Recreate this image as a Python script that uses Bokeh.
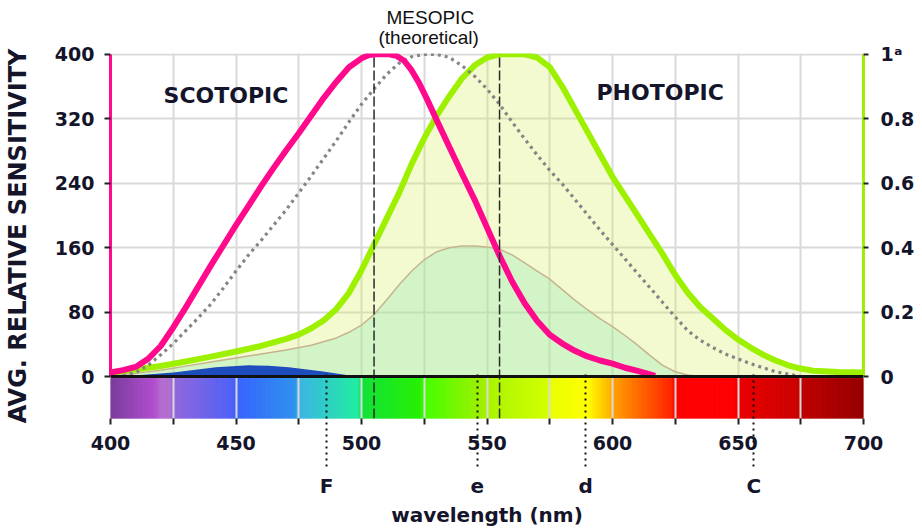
import numpy as np
from bokeh.plotting import figure
from bokeh.models import Range1d, LinearAxis, FixedTicker, Span, Label, Title
from bokeh.embed import file_html
from bokeh.resources import INLINE

# ---------------- data ----------------
scotopic_wl = [400, 405, 410, 415, 420, 425, 430, 435, 440, 445, 450, 455, 460, 465, 470, 475,
               480, 485, 490, 495, 500, 503, 506, 511, 514, 517, 520, 523, 526, 530, 535, 540,
               545, 550, 555, 560, 565, 570, 575, 580, 585, 590, 595, 600, 605, 610, 617]
scotopic_val = [5, 8, 12, 22, 38, 61, 86, 112, 138, 163, 188, 212, 236, 259, 281, 302,
                324, 346, 366, 384, 395, 399, 400, 400, 398, 392, 380, 364, 345, 318, 285, 252,
                220, 185, 150, 118, 91, 69, 52, 41, 32, 25, 20, 16, 11, 7, 1]

mesopic_wl = [405, 410, 415, 420, 425, 430, 435, 440, 445, 450, 455, 460, 465, 470, 475, 480,
              485, 490, 495, 500, 505, 510, 515, 520, 525, 530, 535, 540, 545, 550, 555, 560,
              565, 570, 575, 580, 585, 590, 595, 600, 605, 610, 615, 620, 625, 630, 635, 640,
              645, 650, 655, 660, 665, 670, 675]
mesopic_val = [1, 5, 14, 27, 41, 57, 73, 90, 110, 131, 151, 169, 188, 207, 228, 249,
               271, 293, 316, 338, 357, 375, 389, 397, 400, 400, 396, 386, 373, 357, 338, 316,
               295, 275, 256, 239, 220, 201, 182, 164, 146, 128, 110, 92, 74, 57, 45, 36,
               28, 22, 16, 11, 6, 3, 0]

photopic_wl = [400, 410, 420, 430, 440, 450, 460, 470, 475, 480, 485, 490, 495, 500, 505, 510,
               515, 520, 525, 530, 535, 540, 545, 550, 555, 560, 565, 570, 575, 580, 585, 590,
               595, 600, 605, 610, 615, 620, 625, 630, 635, 640, 645, 650, 655, 660, 665, 670,
               675, 680, 690, 700]
photopic_val = [0.013, 0.022, 0.033, 0.047, 0.062, 0.078, 0.095, 0.117, 0.13, 0.15, 0.175,
                0.21, 0.26, 0.33, 0.41, 0.49, 0.57, 0.66, 0.74, 0.81, 0.87, 0.925, 0.965, 0.99,
                1.0, 1.0, 1.0, 0.99, 0.96, 0.90, 0.83, 0.76, 0.69, 0.62, 0.56, 0.50, 0.44, 0.38,
                0.315, 0.26, 0.215, 0.18, 0.145, 0.115, 0.09, 0.068, 0.05, 0.035, 0.025, 0.018,
                0.014, 0.013]

inner_wl = [400, 410, 420, 430, 440, 450, 460, 470, 480, 490, 495, 500, 505, 510, 515, 520,
            525, 530, 535, 540, 545, 550, 555, 560, 565, 570, 575, 580, 585, 590, 595, 600,
            605, 610, 615, 620, 625, 630, 635]
inner_val = [2, 4, 8, 13, 18, 23, 28, 33, 39, 48, 55, 64, 77, 95, 114, 131,
             145, 155, 160, 162, 162, 161, 158, 151, 141, 131, 121, 108, 95, 83, 72, 62,
             51, 39, 26, 14, 6, 2, 0]

blue_wl = [403, 412, 425, 442, 455, 463, 471, 484, 492, 498]
blue_val = [0, 2, 5, 11.5, 14, 13.5, 11.5, 6.5, 3, 0]

peak_lines = [505, 555]
fraunhofer_wl = [486.1, 546.1, 589.3, 656.3]
fraunhofer_lbl = ["F", "e", "d", "C"]

x_major_ticks = [400, 450, 500, 550, 600, 650, 700]
x_minor_ticks = [425, 475, 525, 575, 625, 675]
left_ticks = [0, 80, 160, 240, 320, 400]
right_ticks = [0, 0.2, 0.4, 0.6, 0.8, 1.0]

spectrum_stops_wl = [400, 418, 420, 424, 425, 449, 450, 474, 475, 499, 500, 524, 525, 549,
                     550, 574, 575, 590, 599, 600, 624, 625, 649, 650, 674, 675, 700]
spectrum_stops_col = ["#7a3c9c", "#b24fd0", "#b46cd0", "#b070d0", "#9468dc", "#4e62f6",
                      "#3a62ff", "#2e92ee", "#3cb4e6", "#22eea0", "#12e23a", "#28f000",
                      "#44ff00", "#a2f000", "#a8f400", "#d2ff00", "#e8ff00", "#ffff00",
                      "#ffb800", "#ffa400", "#ff2200", "#ff0000", "#ff0000", "#ea0000",
                      "#cc0000", "#c00000", "#960000"]

# ---------------- styling ----------------
PINK = "#ff0a8c"
GREEN = "#9cf000"
TXT = "#14142a"
FONT = "DejaVu Sans"
LEFT_MAX = 400
Y_LO, Y_HI = -52, 401

p = figure(width=922, height=529, x_range=Range1d(400, 700), y_range=Range1d(Y_LO, Y_HI),
           output_backend="svg", toolbar_location=None, title=None,
           min_border_left=110, min_border_right=59, min_border_top=53, min_border_bottom=111)
p.extra_y_ranges = {"photopic": Range1d(Y_LO / LEFT_MAX, Y_HI / LEFT_MAX)}
p.outline_line_color = None

# spectrum strip under the zero line
def hex2rgb(h):
    return np.array([int(h[i:i + 2], 16) for i in (1, 3, 5)], dtype=float)

stops_rgb = np.array([hex2rgb(c) for c in spectrum_stops_col])
lefts = np.arange(400, 700, 1.0)
mids = lefts + 0.5
cols = []
for m in mids:
    r = np.interp(m, spectrum_stops_wl, stops_rgb[:, 0])
    g = np.interp(m, spectrum_stops_wl, stops_rgb[:, 1])
    b = np.interp(m, spectrum_stops_wl, stops_rgb[:, 2])
    cols.append("#%02x%02x%02x" % (int(r), int(g), int(b)))
spec = p.quad(left=lefts, right=lefts + 1, bottom=Y_LO, top=-2, fill_color=cols,
              line_color=cols, line_width=1)
spec.level = "image"

# grids
for g in (p.xgrid, p.ygrid):
    g.grid_line_color = "#d9d9d9"
    g.grid_line_width = 2
p.xgrid.minor_grid_line_color = "#d9d9d9"
p.xgrid.minor_grid_line_width = 2

# filled areas
p.varea(x=photopic_wl, y1=0, y2=photopic_val, y_range_name="photopic",
        fill_color="#d8f060", fill_alpha=0.3)
p.varea(x=inner_wl, y1=0, y2=inner_val, fill_color="#94e7b5", fill_alpha=0.35)
p.line(inner_wl, inner_val, line_color="#c5b58e", line_width=1.5)
p.varea(x=blue_wl, y1=0, y2=blue_val, fill_color="#1d4cbc")

# curves
p.line(photopic_wl, photopic_val, y_range_name="photopic", line_color=GREEN, line_width=6,
       line_join="round")
p.line(mesopic_wl, mesopic_val, line_color="#858585", line_width=3.2, line_dash="3 4")
p.line(scotopic_wl, scotopic_val, line_color=PINK, line_width=6, line_join="round")

# peak markers
p.segment(x0=peak_lines, y0=[Y_LO] * len(peak_lines), x1=peak_lines,
          y1=[LEFT_MAX] * len(peak_lines), line_color="#2a2a2a", line_width=1.5,
          line_dash="10 3")

p.add_layout(Span(location=0, dimension="width", line_color="#111111", line_width=3))

# left axis
ya = p.yaxis[0]
ya.ticker = FixedTicker(ticks=left_ticks)
ya.bounds = (0, LEFT_MAX)
ya.axis_line_color = PINK
ya.axis_line_width = 3
ya.major_tick_out = 6
ya.major_tick_in = 0
ya.major_tick_line_color = "#222222"
ya.major_tick_line_width = 2
ya.minor_tick_line_color = None
ya.major_label_text_font = FONT
ya.major_label_text_font_style = "bold"
ya.major_label_text_font_size = "19px"
ya.major_label_text_color = TXT
ya.major_label_standoff = 10
ya.axis_label = "AVG. RELATIVE SENSITIVITY"
ya.axis_label_text_font = FONT
ya.axis_label_text_font_style = "bold"
ya.axis_label_text_font_size = "24px"
ya.axis_label_text_color = TXT
ya.axis_label_standoff = 20

# right axis
ra = LinearAxis(y_range_name="photopic", ticker=FixedTicker(ticks=right_ticks),
                bounds=(0, 1), major_label_overrides={0: "0", 1: "1\u1d43"})
ra.axis_line_color = GREEN
ra.axis_line_width = 3
ra.major_tick_out = 5
ra.major_tick_in = 0
ra.major_tick_line_color = "#222222"
ra.major_tick_line_width = 2
ra.minor_tick_line_color = None
ra.major_label_text_font = FONT
ra.major_label_text_font_style = "bold"
ra.major_label_text_font_size = "19px"
ra.major_label_text_color = TXT
ra.major_label_standoff = 12
p.add_layout(ra, "right")

# bottom wavelength axis
xa = p.xaxis[0]
xa.ticker = FixedTicker(ticks=x_major_ticks, minor_ticks=x_minor_ticks)
xa.axis_line_color = None
for pre in ("major", "minor"):
    setattr(xa, pre + "_tick_out", 6)
    setattr(xa, pre + "_tick_in", 0)
    setattr(xa, pre + "_tick_line_color", "#222222")
    setattr(xa, pre + "_tick_line_width", 2)
xa.major_label_text_font = FONT
xa.major_label_text_font_style = "bold"
xa.major_label_text_font_size = "19px"
xa.major_label_text_color = TXT
xa.major_label_standoff = 11

# Fraunhofer lines axis
fa = LinearAxis(ticker=FixedTicker(ticks=fraunhofer_wl),
                major_label_overrides=dict(zip(fraunhofer_wl, fraunhofer_lbl)))
fa.axis_line_color = None
fa.major_tick_in = 78
fa.major_tick_out = 14
fa.major_tick_line_color = "#111111"
fa.major_tick_line_width = 2
fa.major_tick_line_dash = "2 4"
fa.minor_tick_line_color = None
fa.major_label_text_font = FONT
fa.major_label_text_font_style = "bold"
fa.major_label_text_font_size = "20px"
fa.major_label_text_color = TXT
fa.major_label_standoff = 7
fa.axis_label = "wavelength (nm)"
fa.axis_label_text_font = FONT
fa.axis_label_text_font_style = "bold"
fa.axis_label_text_font_size = "20px"
fa.axis_label_text_color = TXT
fa.axis_label_standoff = 2
p.add_layout(fa, "below")

# text annotations
for txt, x, y in (("SCOTOPIC", 446, 349), ("PHOTOPIC", 619, 353)):
    p.add_layout(Label(x=x, y=y, text=txt, text_align="center", text_baseline="middle",
                       text_font=FONT, text_font_style="bold", text_font_size="22px",
                       text_color=TXT))

# mesopic caption above the frame
p.add_layout(Title(text="(theoretical)", align="left", offset=268, standoff=10,
                   vertical_align="middle", text_font="Liberation Sans",
                   text_font_size="19px", text_font_style="normal", text_color="#111111"),
             "above")
p.add_layout(Title(text="MESOPIC", align="left", offset=276, standoff=-14,
                   vertical_align="bottom", text_font="Liberation Sans",
                   text_font_size="19px", text_font_style="normal", text_color="#111111"),
             "above")

open("out.html", "w").write(file_html(p, INLINE))
